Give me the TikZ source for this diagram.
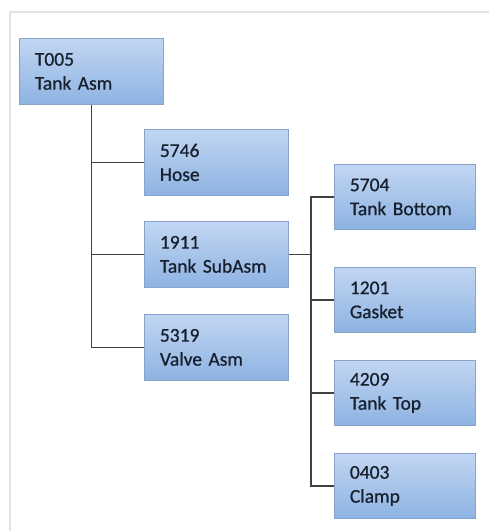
\documentclass[tikz,border=0pt]{standalone}
\usepackage{fontspec}
\setmainfont{Carlito}[FakeBold=0.7]
\usetikzlibrary{positioning}
\definecolor{boxtop}{HTML}{C2D6F2}
\definecolor{boxbot}{HTML}{8DB3E2}
\definecolor{boxline}{HTML}{86A3CC}
\definecolor{linkgray}{HTML}{404040}
\definecolor{framegray}{HTML}{E2E2E2}
\definecolor{inkblue}{HTML}{18202E}
\begin{document}
\begin{tikzpicture}[
    x=1pt, y=-1pt,
    part/.style={rectangle, draw=boxline, line width=0.8pt, top color=boxtop, bottom color=boxbot,
        anchor=north west, minimum width=144pt, minimum height=66pt, text width=113pt,
        inner xsep=15pt, align=left, text=inkblue,
        font=\fontsize{19.5}{24}\selectfont},
    subpart/.style={part, minimum width=141pt, minimum height=65pt, text width=110pt},
    link/.style={draw=linkgray, line width=1.5pt}
]
\useasboundingbox (0,0) rectangle (489,531);
\draw[framegray, line width=1.5pt] (489,12) -- (10,12) -- (10,531);

\node[part] (tankasm) at (19,38) {T005\\Tank Asm};
\node[part] (hose) at (144,129) {5746\\Hose};
\node[part] (subasm) at (144,221) {1911\\Tank SubAsm};
\node[part] (valve) at (144,314) {5319\\Valve Asm};

\node[subpart] (bottom) at (334,164) {5704\\Tank Bottom};
\node[subpart] (gasket) at (334,267) {1201\\Gasket};
\node[subpart] (top) at (334,360) {4209\\Tank Top};
\node[subpart] (clamp) at (334,453) {0403\\Clamp};

% level 1
\draw[link] (tankasm.south) |- (hose.west);
\draw[link] (tankasm.south) |- (subasm.west);
\draw[link] (tankasm.south) |- (valve.west);

% level 2
\draw[link] (subasm.east) -- ++(22,0) coordinate (fork);
\draw[link] (fork) |- (bottom.west);
\draw[link] (fork) |- (gasket.west);
\draw[link] (fork) |- (top.west);
\draw[link] (fork) |- (clamp.west);
\end{tikzpicture}
\end{document}
